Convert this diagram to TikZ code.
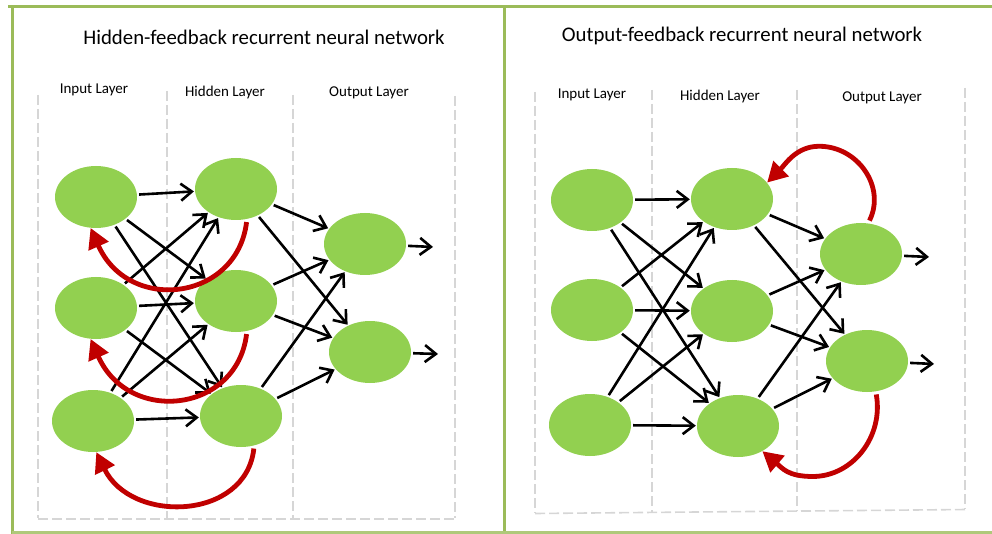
\documentclass[tikz,border=0pt]{standalone}
\usepackage{fontspec}
\setmainfont{Carlito}
\usetikzlibrary{shapes.geometric,arrows.meta}
\definecolor{neuronc}{HTML}{92D050}
\definecolor{framec}{HTML}{9BBB59}
\definecolor{loopc}{HTML}{C00000}
\definecolor{guidec}{HTML}{D6D6D6}
\begin{document}
\begin{tikzpicture}[x=1pt,y=-1pt,
  neuron/.style={ellipse,fill=neuronc,minimum width=82pt,minimum height=62pt,inner sep=0pt},
  link/.style={line width=2.6pt,line join=round,-{Straight Barb[length=11pt,width=17pt]},shorten <=2pt,shorten >=1pt},
  feedback/.style={line width=4.8pt,draw=loopc,-{Triangle[length=20pt,width=21pt,fill=loopc]},shorten <=3pt},
  guide/.style={draw=guidec,line width=1.6pt,dash pattern=on 10pt off 4pt},
  panelframe/.style={draw=framec,line width=3pt},
  title/.style={font=\fontsize{20.8}{24}\selectfont},
  layer/.style={font=\fontsize{15}{18}\selectfont}]
\useasboundingbox (0,0) rectangle (992,534);

% panel frames
\draw[panelframe] (8,7) -- (992,7);
\draw[panelframe] (12,7) -- (12,534);
\draw[panelframe] (504,7) -- (504,534);
\draw[panelframe,draw=framec!80] (12,532.5) -- (992,532.5);

% layer guides, left panel
\foreach \x/\t in {38/95,167/91,293/95,455/96}
  \draw[guide] (\x,\t) -- (\x,518);
\draw[guide] (38,519) -- (457,519);
% layer guides, right panel
\foreach \x/\t/\b in {535/92/513,652/90/512,797/90/511,965/88/509}
  \draw[guide] (\x,\t) -- (\x,\b);
\draw[guide] (535,513.5) -- (967,509.5);

% titles
\node[title] (atitle) at (264,37) {Hidden-feedback recurrent neural network};
\node[title] (btitle) at (742,36) {Output-feedback recurrent neural network};

% layer names
\node[layer] (ain)  at (94,90)  {Input Layer};
\node[layer] (ahid) at (225,93) {Hidden Layer};
\node[layer] (aout) at (369,93) {Output Layer};
\node[layer] (bin)  at (592,95) {Input Layer};
\node[layer] (bhid) at (720,97) {Hidden Layer};
\node[layer] (bout) at (882,98) {Output Layer};

% neurons, hidden-feedback network
\node[neuron] (aI1) at (96,197) {};
\node[neuron] (aI2) at (96,308) {};
\node[neuron] (aI3) at (93,421) {};
\node[neuron] (aH1) at (236,189) {};
\node[neuron] (aH2) at (236,301) {};
\node[neuron] (aH3) at (241,416) {};
\node[neuron] (aO1) at (365,244) {};
\node[neuron] (aO2) at (370,352) {};

% neurons, output-feedback network
\node[neuron] (bI1) at (592,200) {};
\node[neuron] (bI2) at (592,310) {};
\node[neuron] (bI3) at (590,425) {};
\node[neuron] (bH1) at (732,199) {};
\node[neuron] (bH2) at (732,311) {};
\node[neuron] (bH3) at (738,426) {};
\node[neuron] (bO1) at (861,254) {};
\node[neuron] (bO2) at (867,361) {};

% output ends
\coordinate (aY1) at (434,247);
\coordinate (aY2) at (439,354);
\coordinate (bY1) at (930,257);
\coordinate (bY2) at (935,364);

% forward connections
\foreach \p in {a,b}{
  \foreach \s in {1,2,3}
    \foreach \t in {1,2,3}
      \draw[link] (\p I\s) -- (\p H\t);
  \foreach \s in {1,2,3}
    \foreach \t in {1,2}
      \draw[link] (\p H\s) -- (\p O\t);
  \draw[link] (\p O1) -- (\p Y1);
  \draw[link] (\p O2) -- (\p Y2);
}

% hidden-to-input feedback loops
\draw[feedback] (aH1.-70) .. controls +(-10,82) and +(38,86) .. (aI1.-100);
\draw[feedback] (aH2.-70) .. controls +(-10,82) and +(38,86) .. (aI2.-100);
\draw[feedback] (aH3.-66) .. controls +(-8,75) and +(35,72) .. (aI3.-84);

% output-to-hidden feedback loops
\draw[feedback] (bO1.77) .. controls +(18,-36) and +(39,0) .. ++(-49,-77)
  .. controls +(-23,0) and +(18,-18) .. (bH1.25);
\draw[feedback] (bO2.-74) .. controls +(8,45) and +(40,0) .. ++(-63,85)
  .. controls +(-25,0) and +(20,17) .. (bH3.-46);
\end{tikzpicture}
\end{document}
